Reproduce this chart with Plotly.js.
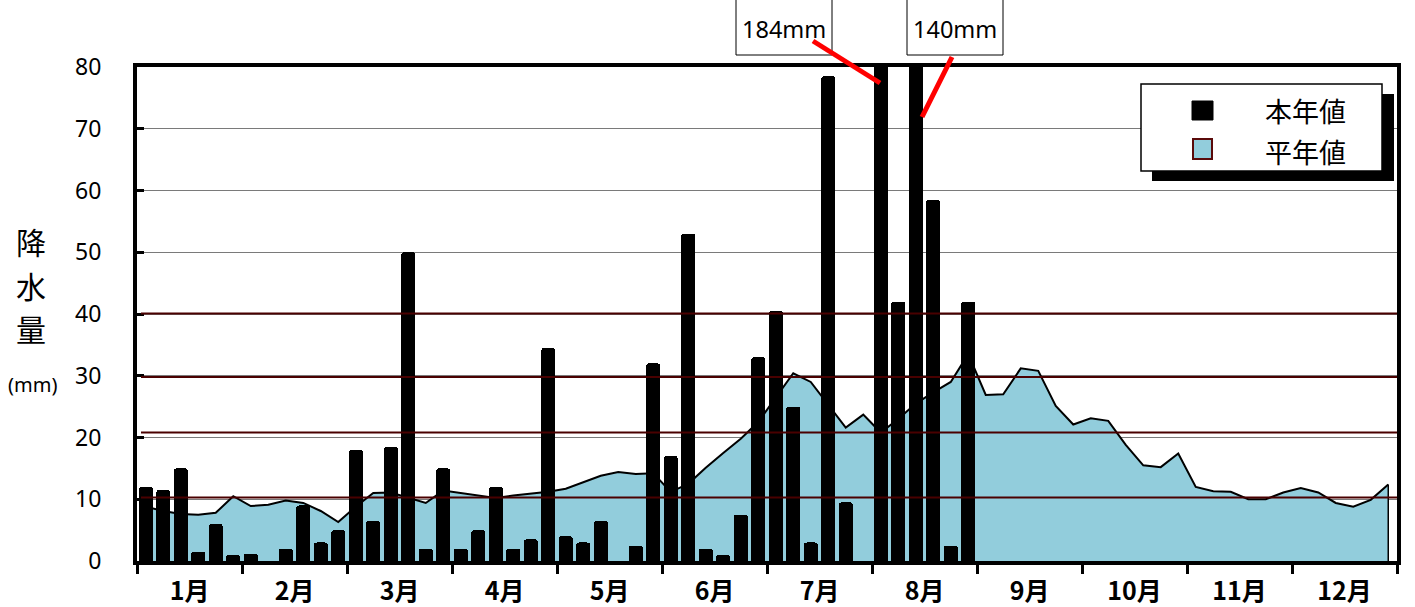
<!DOCTYPE html>
<html><head><meta charset="utf-8">
<script src="https://cdn.plot.ly/plotly-3.0.1.min.js"></script>
<style>html,body{margin:0;padding:0;background:#fff}#c{width:1415px;height:607px}</style>
</head><body><div id="c"></div>
<script>
// Pentad (半旬) precipitation, mm
const monthLabels = ["1月","2月","3月","4月","5月","6月","7月","8月","9月","10月","11月","12月"];
const currentYear = [12, 11.5, 15, 1.5, 6, 1, 1.2, 0, 2, 9,
  3, 5, 18, 6.5, 18.5, 50, 2, 15, 2, 5,
  12, 2, 3.5, 34.5, 4, 3, 6.5, 0, 2.5, 32,
  17, 53, 2, 1, 7.5, 33, 40.5, 25, 3, 78.5,
  9.5, 0, 184, 42, 140, 58.5, 2.5, 42];
const normalYear = [8.8, 8.1, 7.6, 7.5, 7.8, 10.5, 8.9, 9.1, 9.8, 9.4,
  8.1, 6.3, 8.8, 11.0, 11.1, 10.2, 9.4, 11.4, 11.0, 10.5,
  10.2, 10.6, 10.9, 11.2, 11.7, 12.8, 13.8, 14.4, 14.1, 14.2,
  11.2, 12.5, 15.1, 17.5, 19.8, 22.5, 26.5, 30.4, 29.0, 25.3,
  21.6, 23.7, 20.8, 23.0, 25.5, 27.3, 29.0, 33.5, 26.9, 27.0,
  31.2, 30.8, 25.1, 22.1, 23.1, 22.7, 18.8, 15.5, 15.2, 17.4,
  12.0, 11.3, 11.2, 10.0, 10.0, 11.1, 11.8, 11.1, 9.4, 8.8,
  9.9, 12.4];
const yTicks = [0,10,20,30,40,50,60,70,80];
const refLines = [40.1, 29.8, 20.8, 10.3];
const legendNames = ["本年値","平年値"];
const yTitleChars = ["降","水","量"];
const yTitleUnit = "(mm)";

const P = 6; // pentads per month
const xCur = currentYear.map((_, i) => i);
const xNorm = normalYear.map((_, i) => i);
const nAll = monthLabels.length * P;

// pixel -> paper helpers (plot area 137..1397 x 67..561)
const L = 137, T = 67, W = 1260, H = 494;
const px = v => (v - L) / W;
const py = v => (T + H - v) / H;

const traces = [
  {type:'scatter', x:xNorm, y:normalYear, mode:'lines', fill:'tozeroy',
   fillcolor:'#92cddc', line:{color:'#000', width:2}, hoverinfo:'skip', showlegend:false},
  {type:'scatter', x:[xNorm[xNorm.length-1], xNorm[xNorm.length-1]], y:[0, normalYear[normalYear.length-1]],
   mode:'lines', line:{color:'#000', width:1.5}, showlegend:false, hoverinfo:'skip'},
  {type:'bar', x:xCur, y:currentYear, xaxis:'x2', yaxis:'y', width:0.8,
   marker:{color:'#000', cornerradius:3, line:{width:0}}, showlegend:false, hoverinfo:'skip'}
];

const boundaries = Array.from({length: monthLabels.length + 1}, (_, k) => k * P - 0.5);
const centers = monthLabels.map((_, k) => k * P + (P - 1) / 2);

const shapes = [];
refLines.forEach(v => shapes.push({type:'line', xref:'paper', yref:'y', x0:px(141), x1:1, y0:v, y1:v,
  line:{color:'#4a0000', width:2}, layer:'above'}));
// legend
shapes.push({type:'rect', xref:'paper', yref:'paper', x0:px(1152), x1:px(1394), y0:py(94), y1:py(181), fillcolor:'#000', line:{width:0}, layer:'above'});
shapes.push({type:'rect', xref:'paper', yref:'paper', x0:px(1141), x1:px(1382), y0:py(84), y1:py(171), fillcolor:'#fff', line:{color:'#000', width:1.5}, layer:'above'});
shapes.push({type:'rect', xref:'paper', yref:'paper', x0:px(1192), x1:px(1213), y0:py(101), y1:py(120), fillcolor:'#000', line:{color:'#000', width:1}, layer:'above'});
shapes.push({type:'rect', xref:'paper', yref:'paper', x0:px(1193), x1:px(1212), y0:py(139), y1:py(159), fillcolor:'#92cddc', line:{color:'#5a0a0a', width:2}, layer:'above'});
// callout boxes
shapes.push({type:'rect', xref:'paper', yref:'paper', x0:px(736), x1:px(832), y0:py(55), y1:py(-5), fillcolor:'#fff', line:{color:'#000', width:1}, layer:'above'});
shapes.push({type:'rect', xref:'paper', yref:'paper', x0:px(907), x1:px(1003), y0:py(55), y1:py(-5), fillcolor:'#fff', line:{color:'#000', width:1}, layer:'above'});
shapes.push({type:'line', xref:'paper', yref:'paper', x0:px(813), y0:py(41), x1:px(880), y1:py(83), line:{color:'#ff0000', width:5}, layer:'above'});
shapes.push({type:'line', xref:'paper', yref:'paper', x0:px(952), y0:py(57), x1:px(922), y1:py(117), line:{color:'#ff0000', width:5}, layer:'above'});

const fontJP = '"Noto Sans CJK JP", "Noto Sans", sans-serif';
const over = currentYear.filter(v => v > 80);
const annotations = [
  {xref:'paper', yref:'paper', x:px(784), y:py(29), text: over[0] + 'mm', showarrow:false, xanchor:'center', yanchor:'middle', font:{size:23.5, color:'#000', family:'"Noto Sans", sans-serif'}},
  {xref:'paper', yref:'paper', x:px(955), y:py(29), text: over[1] + 'mm', showarrow:false, xanchor:'center', yanchor:'middle', font:{size:23.5, color:'#000', family:'"Noto Sans", sans-serif'}},
  {xref:'paper', yref:'paper', x:px(1305), y:py(111), text: legendNames[0], showarrow:false, xanchor:'center', yanchor:'middle', font:{size:27, color:'#000', family:fontJP}},
  {xref:'paper', yref:'paper', x:px(1305), y:py(151), text: legendNames[1], showarrow:false, xanchor:'center', yanchor:'middle', font:{size:27, color:'#000', family:fontJP}},
  {xref:'paper', yref:'paper', x:px(32), y:py(384), text:yTitleUnit, showarrow:false, xanchor:'center', yanchor:'middle', font:{size:20, color:'#000', family:'"Noto Sans", sans-serif'}}
];
const titleY = [241, 285, 328];
yTitleChars.forEach((c, i) => annotations.push({xref:'paper', yref:'paper', x:px(31), y:py(titleY[i]), text:c, showarrow:false,
  xanchor:'center', yanchor:'middle', font:{size:30, color:'#000', family:fontJP}}));

const layout = {
  width:1415, height:607,
  margin:{l:L, r:1415-L-W, t:T, b:607-T-H, pad:0},
  paper_bgcolor:'#fff', plot_bgcolor:'#fff',
  showlegend:false, bargap:0,
  font:{family:fontJP, color:'#000'},
  xaxis:{range:[-0.5, nAll-0.5], tickmode:'array', tickvals:boundaries, ticktext:boundaries.map(()=>''),
    ticks:'outside', ticklen:9, tickwidth:3, tickcolor:'#000', showgrid:false, zeroline:false,
    showline:true, linecolor:'#000', linewidth:4, mirror:true, fixedrange:true},
  xaxis2:{overlaying:'x', anchor:'y', side:'bottom', range:[-0.5, nAll-0.5], tickmode:'array', tickvals:centers, ticktext:monthLabels,
    ticks:'', showgrid:false, zeroline:false, showline:false, ticklabelstandoff:13,
    tickfont:{size:25, family:fontJP, weight:'bold', color:'#000'}},
  yaxis:{range:[0,80], tickmode:'array', tickvals:yTicks, ticktext:yTicks.map(String),
    ticks:'inside', ticklen:7, tickwidth:3, tickcolor:'#000',
    showgrid:true, gridcolor:'#7a7a7a', gridwidth:1, zeroline:false,
    showline:true, linecolor:'#000', linewidth:4, mirror:true,
    ticklabelstandoff:27, tickfont:{size:23, family:'"Noto Sans", sans-serif', color:'#000'}},
  shapes, annotations
};
Plotly.newPlot('c', traces, layout, {staticPlot:true, displayModeBar:false});
</script>
</body></html>
